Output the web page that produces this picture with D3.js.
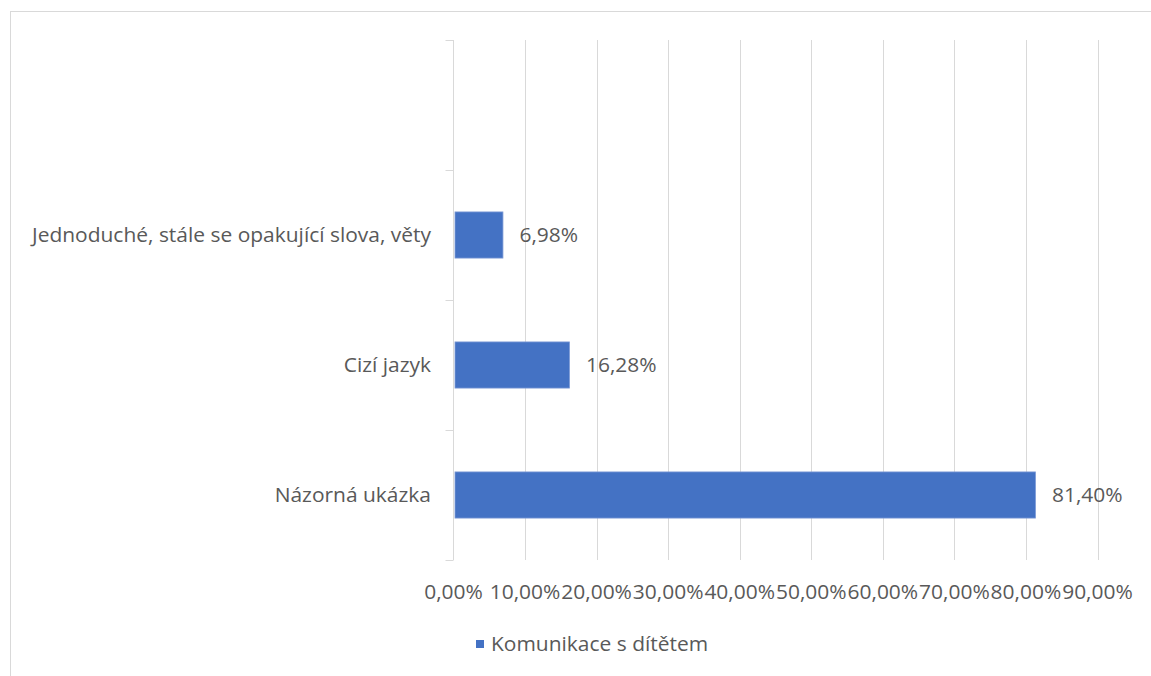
<!DOCTYPE html>
<html>
<head>
<meta charset="utf-8">
<script src="https://cdn.jsdelivr.net/npm/d3@7"></script>
<style>
  html, body { margin: 0; padding: 0; background: #fff; }
  svg { display: block; }
  text { font-family: "Open Sans", Lato, sans-serif; fill: #595959; }
</style>
</head>
<body>
<svg id="chart" width="1151" height="676"></svg>
<script>
// Categories listed bottom to top; the top slot is an empty category
const categories = ["Názorná ukázka", "Cizí jazyk", "Jednoduché, stále se opakující slova, věty", ""];
const values = [81.40, 16.28, 6.98, null];
const seriesName = "Komunikace s dítětem";
const xTicks = [0, 10, 20, 30, 40, 50, 60, 70, 80, 90];

const fmt = v => v.toFixed(2).replace(".", ",") + "%";
const FS = 19.5;      // font size
const SX = 1.075;     // horizontal widening of the text glyphs

const svg = d3.select("#chart");
const W = 1151, H = 676;

// places a text node at (x, y), widened horizontally
function label(sel, xf, yf) {
  return sel.attr("transform", (d, i) => `translate(${xf(d, i)},${yf(d, i)}) scale(${SX},1)`);
}

// chart area frame
svg.append("rect")
  .attr("x", 10.5).attr("y", 11.5)
  .attr("width", W + 10).attr("height", H + 10)
  .attr("fill", "none").attr("stroke", "#d9d9d9").attr("stroke-width", 1);

const plot = { left: 453.5, right: 1097.5, top: 40, bottom: 560 };

const x = d3.scaleLinear().domain([0, 90]).range([plot.left, plot.right]);
const y = d3.scaleBand()
  .domain(d3.range(categories.length).map(String).reverse())
  .range([plot.top, plot.bottom])
  .paddingInner(0.645).paddingOuter(0.3225);

const band = (plot.bottom - plot.top) / categories.length;

// vertical gridlines
svg.append("g")
  .selectAll("line")
  .data(xTicks.slice(1))
  .join("line")
  .attr("x1", d => Math.round(x(d)) + 0.5).attr("x2", d => Math.round(x(d)) + 0.5)
  .attr("y1", plot.top).attr("y2", plot.bottom)
  .attr("stroke", "#d9d9d9").attr("stroke-width", 1);

// category axis line with outward ticks between categories
const axisG = svg.append("g");
axisG.append("line")
  .attr("x1", plot.left).attr("x2", plot.left)
  .attr("y1", plot.top).attr("y2", plot.bottom)
  .attr("stroke", "#d9d9d9");
axisG.selectAll("line.tick")
  .data(d3.range(categories.length + 1))
  .join("line")
  .attr("class", "tick")
  .attr("x1", plot.left - 8).attr("x2", plot.left)
  .attr("y1", i => plot.top + i * band + 0.5).attr("y2", i => plot.top + i * band + 0.5)
  .attr("stroke", "#d9d9d9");

// category labels
label(svg.append("g")
  .selectAll("text")
  .data(categories)
  .join("text")
  .attr("dy", "0.35em")
  .attr("text-anchor", "end")
  .attr("font-size", FS)
  .text(d => d),
  () => 431, (d, i) => y(String(i)) + y.bandwidth() / 2);

// bars
const data = categories.map((c, i) => ({ c, i, v: values[i] })).filter(d => d.v != null);
svg.append("g")
  .selectAll("rect")
  .data(data)
  .join("rect")
  .attr("x", x(0) + 1.5)
  .attr("y", d => y(String(d.i)))
  .attr("width", d => x(d.v) - x(0) - 2)
  .attr("height", y.bandwidth())
  .attr("fill", "#4472c4")
  .attr("stroke", "#7d9bd6")
  .attr("stroke-width", 0.8);

// value labels
label(svg.append("g")
  .selectAll("text")
  .data(data)
  .join("text")
  .attr("dy", "0.35em")
  .attr("font-size", FS)
  .text(d => fmt(d.v)),
  d => x(d.v) + 16, d => y(String(d.i)) + y.bandwidth() / 2);

// value axis tick labels
label(svg.append("g")
  .selectAll("text")
  .data(xTicks)
  .join("text")
  .attr("dy", "0.35em")
  .attr("text-anchor", "middle")
  .attr("font-size", FS)
  .text(d => fmt(d)),
  d => x(d), () => 592);

// legend
const leg = svg.append("g");
leg.append("rect")
  .attr("x", 476).attr("y", 640).attr("width", 8).attr("height", 8)
  .attr("fill", "#4472c4");
label(leg.append("text").datum(seriesName)
  .attr("dy", "0.35em")
  .attr("font-size", FS)
  .text(d => d),
  () => 491, () => 644);
</script>
</body>
</html>
